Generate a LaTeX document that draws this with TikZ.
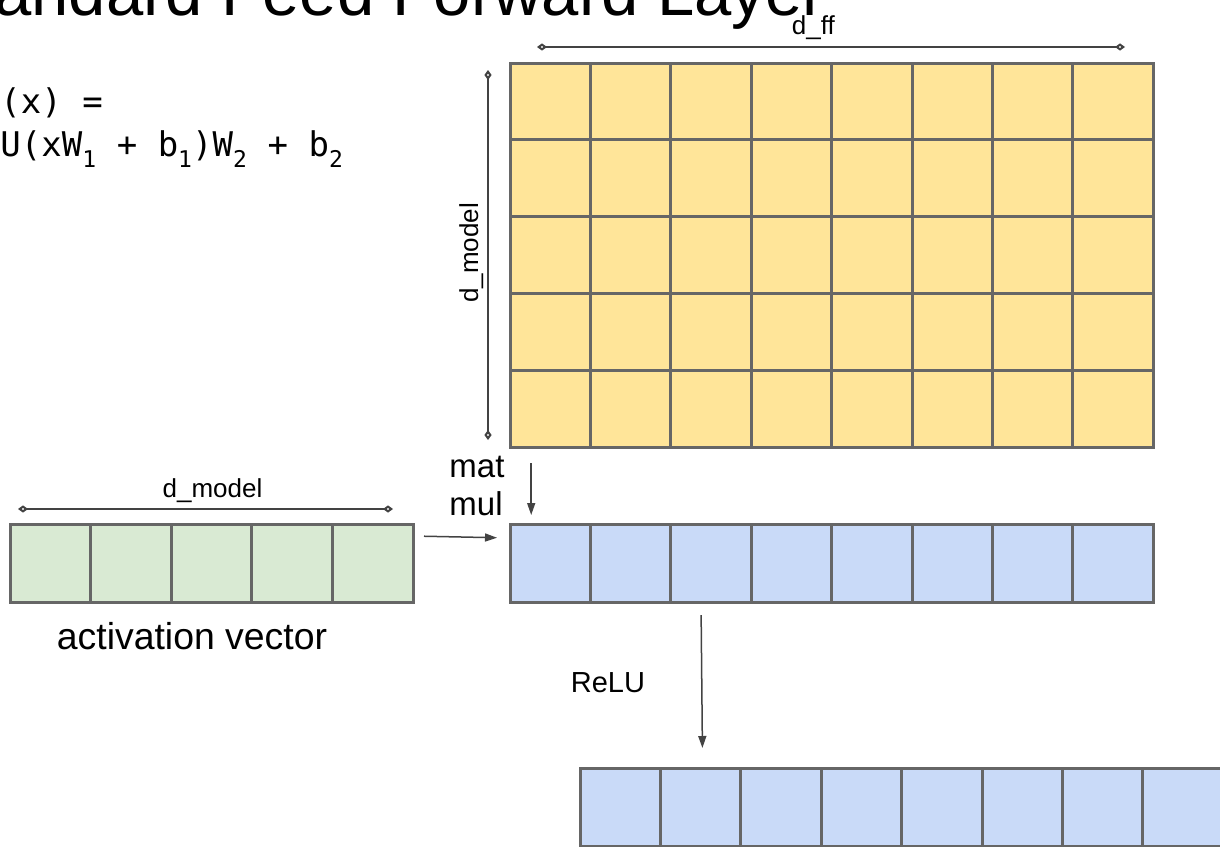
\documentclass[tikz,border=0pt]{standalone}
\usepackage{fontspec}
\setmainfont{Liberation Sans}
\newfontfamily\codefont{DejaVu Sans Mono}
\usetikzlibrary{arrows.meta}

\definecolor{wfill}{HTML}{FFE599}
\definecolor{xfill}{HTML}{D9EAD3}
\definecolor{hfill}{HTML}{C9DAF8}
\definecolor{gridline}{HTML}{666666}
\definecolor{ink}{HTML}{434343}

% lowered index digit for the mono formula
\newcommand{\lowsub}[1]{\makebox[7pt][l]{\raisebox{-5.5pt}{\fontsize{11.5}{11.5}\selectfont #1}}}

\begin{document}
\begin{tikzpicture}[x=0.5pt,y=-0.5pt]
\tikzstyle{cell}=[draw=gridline,line width=1.5pt,minimum width=40.2pt,inner sep=0pt,outer sep=0pt,anchor=north west]
\tikzstyle{dim}=[draw=ink,line width=1pt,{Diamond[open,length=5pt,width=3.6pt]}-{Diamond[open,length=5pt,width=3.6pt]}]
\tikzstyle{flow}=[draw=ink,line width=0.75pt,-{Triangle[length=6pt,width=4pt]}]
\tikzstyle{lbl}=[inner sep=0pt,font=\fontsize{13}{16}\selectfont]
\useasboundingbox (0,0) rectangle (1220,846);
\clip (0,0) rectangle (1220,846);

% heading and formula run off the page edge
\node[anchor=base east,font=\fontsize{33.5}{36}\selectfont] (title) at (832,15) {Standard Feed Forward Layer};
\node[anchor=base west,font=\codefont\fontsize{17}{20}\selectfont] (ffn) at (-68,113) {FFN(x) =};
\node[anchor=base west,font=\codefont\fontsize{17}{20}\selectfont] (relu) at (-68,156)
  {ReLU(xW\lowsub{1} + b\lowsub{1})W\lowsub{2} + b\lowsub{2}};

% weight matrix W1
\foreach \c in {0,...,7}
  \foreach \r in {0,...,4}
    \node[cell,fill=wfill,minimum height=38.4pt] (w-\c-\r) at ({510+80.4*\c},{63+76.8*\r}) {};
% input vector
\foreach \c in {0,...,4}
  \node[cell,fill=xfill,minimum width=40.3pt,minimum height=39pt] (x-\c) at ({10+80.6*\c},524) {};
% hidden vector, before and after ReLU
\foreach \c in {0,...,7} {
  \node[cell,fill=hfill,minimum height=39pt] (h-\c) at ({510+80.4*\c},524) {};
  \node[cell,fill=hfill,minimum height=39pt] (o-\c) at ({580+80.4*\c},768) {};
}

% sizes
\coordinate (ff-l) at (537,47);
\coordinate (ff-r) at (1125,47);
\draw[dim] (ff-l) -- node[lbl,pos=0.47,anchor=base,yshift=6.5pt] (dff) {d\_ff} (ff-r);
\coordinate (dm-t) at (488,70);
\coordinate (dm-b) at (488,440);
\draw[dim] (dm-t) -- (dm-b);
\node[lbl,rotate=90,anchor=base] (dmv) at (478,253) {d\_model};
\coordinate (dx-l) at (18,509);
\coordinate (dx-r) at (393,509);
\draw[dim] (dx-l) -- node[lbl,anchor=base,xshift=3.5pt,yshift=6pt] (dmh) {d\_model} (dx-r);
\node[inner sep=0pt,font=\fontsize{18.7}{22}\selectfont] (actlbl) at (192,636) {activation vector};

% arrows
\draw[flow,shorten <=5.5pt,shorten >=6.5pt] ([yshift=13.5pt]x-4.east) -- ([yshift=12.5pt]h-0.west);
\draw[flow,shorten <=8pt,shorten >=4.5pt] ([xshift=-9.5pt]w-0-4.south) -- ([xshift=-9.5pt]h-0.north)
  node[lbl,midway,left=13pt,align=left,font=\fontsize{16.5}{19}\selectfont] (mm) {mat\\mul};
\draw[flow,shorten <=6.5pt,shorten >=10pt] ([xshift=-5pt]h-2.south) -- ([xshift=1pt]o-1.north)
  node[lbl,midway,left=28pt,yshift=1pt,font=\fontsize{14.5}{17}\selectfont] (act) {ReLU};
\end{tikzpicture}
\end{document}
